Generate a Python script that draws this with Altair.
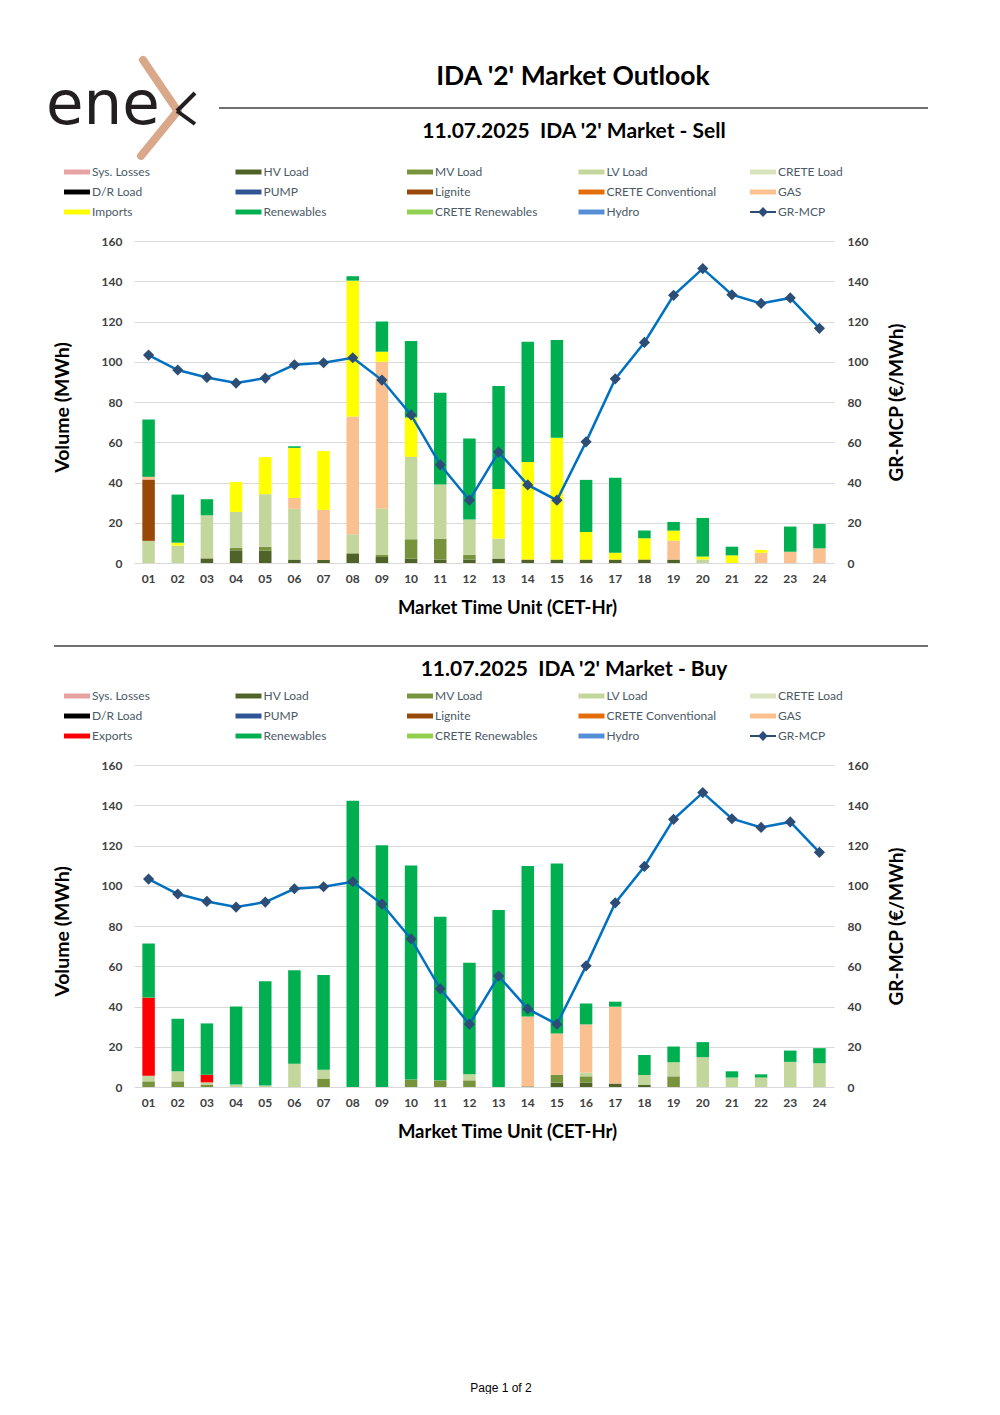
import altair as alt
import pandas as pd

hours = [f"{i:02d}" for i in range(1, 25)]

legend_sell = ["Sys. Losses", "HV Load", "MV Load", "LV Load", "CRETE Load",
               "D/R Load", "PUMP", "Lignite", "CRETE Conventional", "GAS",
               "Imports", "Renewables", "CRETE Renewables", "Hydro", "GR-MCP"]
legend_buy = ["Sys. Losses", "HV Load", "MV Load", "LV Load", "CRETE Load",
              "D/R Load", "PUMP", "Lignite", "CRETE Conventional", "GAS",
              "Exports", "Renewables", "CRETE Renewables", "Hydro", "GR-MCP"]
colors_sell = ["#E6A3A1", "#4F6228", "#77933C", "#C3D69B", "#D7E4BD",
               "#000000", "#2F5597", "#984807", "#E46C0A", "#FAC090",
               "#FFFF00", "#00B050", "#92D050", "#558ED5", "#2C4D75"]
colors_buy = ["#E6A3A1", "#4F6228", "#77933C", "#C3D69B", "#D7E4BD",
              "#000000", "#2F5597", "#984807", "#E46C0A", "#FAC090",
              "#FF0000", "#00B050", "#92D050", "#558ED5", "#2C4D75"]

# ---- Sell volumes (MWh) ----
sell_hv = [0, 0, 2.3, 6.3, 6.1, 1.7, 1.5, 4.8, 3, 2.2, 1.7, 1.7, 2.2, 1.7, 1.7, 1.7, 1.7, 1.7, 1.7, 0, 0, 0, 0, 0]
sell_mv = [0, 0, 0, 1.2, 2, 0, 0, 0, 1, 9.6, 10.4, 2.4, 0, 0, 0, 0, 0, 0, 0, 0, 0, 0, 0, 0]
sell_lv = [11, 8.6, 21.4, 17.9, 26.1, 25.2, 0, 9.5, 23, 40.9, 26.9, 17.5, 9.9, 0, 0, 0, 0, 0, 0, 1.8, 0, 0, 0, 0]
sell_lignite = [30.5, 0, 0, 0, 0, 0, 0, 0, 0, 0, 0, 0, 0, 0, 0, 0, 0, 0, 0, 0, 0, 0, 0, 0]
sell_gas = [1.3, 0, 0, 0, 0, 5.4, 24.9, 58.5, 73, 0, 0, 0, 0, 0, 0, 0, 0, 0, 9.4, 0, 0, 5.1, 5.6, 7.3]
sell_imports = [0, 1.5, 0, 14.9, 18.4, 24.9, 29.2, 67.5, 5, 19.6, 0, 0, 24.7, 48.5, 60.5, 13.7, 3.4, 10.6, 5, 1.4, 3.8, 1.4, 0, 0]
sell_ren = [28.5, 23.9, 8, 0, 0, 0.8, 0, 2.2, 15, 38, 45.6, 40.3, 51.1, 59.8, 48.6, 25.9, 37.2, 3.8, 4.3, 19.2, 4.3, 0, 12.5, 12.1]

# ---- Buy volumes (MWh) ----
buy_hv = [0, 0, 0, 0, 0, 0, 0, 0, 0, 0, 0, 0, 0, 0.3, 2.2, 2.2, 1.7, 1, 0, 0, 0, 0, 0, 0]
buy_mv = [2.8, 2.8, 1, 0, 0, 0, 4.2, 0, 0, 3.7, 3.3, 3.3, 0, 0, 3.8, 3.1, 0, 0, 5.3, 0, 0, 0, 0, 0]
buy_lv = [2.8, 5, 1.3, 1.2, 0.7, 11.6, 4.4, 0, 0, 0, 0, 3, 0, 0, 0, 1.8, 0, 5, 7, 14.8, 4.7, 4.7, 12.5, 11.8]
buy_gas = [0, 0, 0, 0, 0, 0, 0, 0, 0, 0, 0, 0, 0, 34.7, 20.6, 24, 38.2, 0, 0, 0, 0, 0, 0, 0]
buy_exports = [38.8, 0, 3.8, 0, 0, 0, 0, 0, 0, 0, 0, 0, 0, 0, 0, 0, 0, 0, 0, 0, 0, 0, 0, 0]
buy_ren = [26.9, 26.1, 25.5, 38.8, 51.8, 46.4, 47, 142.2, 120.1, 106.4, 81.3, 55.5, 87.9, 74.8, 84.4, 10.4, 2.5, 9.9, 7.8, 7.5, 3.1, 1.6, 5.6, 7.5]

# ---- GR-MCP (EUR/MWh) ----
mcp = [103.3, 95.9, 92.2, 89.4, 91.9, 98.5, 99.5, 102, 90.9, 73.6, 48.8, 31.2,
       55.1, 38.8, 31.2, 60.2, 91.5, 109.6, 133, 146.3, 133.3, 129, 131.7, 116.6]

tick_values = [0, 20, 40, 60, 80, 100, 120, 140, 160]

FONT = "Lato"
LABEL_COLOR = "#404040"
RECT = "M-1,-0.19H1V0.19H-1Z"
MCP_SYM = "M-1,-0.08H-0.3L0,-0.38L0.3,-0.08H1V0.08H0.3L0,0.38L-0.3,0.08H-1Z"
shapes = [RECT] * 14 + [MCP_SYM]


def long_df(series, legend):
    rows = []
    for name, vals in series.items():
        for h, v in zip(hours, vals):
            if v > 0:
                rows.append({"hour": h, "series": name, "value": v,
                             "ord": legend.index(name)})
    return pd.DataFrame(rows)


def legend_cfg():
    return alt.Legend(title=None, orient="none", legendX=-70, legendY=-82,
                      columns=5, direction="horizontal", gridAlign="all",
                      columnPadding=33.5, rowPadding=1, symbolSize=676,
                      symbolStrokeWidth=0, symbolOpacity=1, symbolType=RECT,
                      labelFont=FONT, labelFontSize=12, labelColor="#4A5A66",
                      labelOffset=2, labelLimit=250)


def txt(s, x, y, size, weight="bold", font=FONT, color="#000000",
        align="center", baseline="middle"):
    return alt.Chart(pd.DataFrame({"t": [s]})).mark_text(
        font=font, fontSize=size, fontWeight=weight, color=color,
        align=align, baseline=baseline
    ).encode(x=alt.value(x), y=alt.value(y), text="t:N")


def seg(x1, y1, x2, y2, color, w, cap="butt"):
    return alt.Chart(pd.DataFrame({"a": [0]})).mark_rule(
        color=color, strokeWidth=w, strokeCap=cap
    ).encode(x=alt.value(x1), y=alt.value(y1), x2=alt.value(x2), y2=alt.value(y2))


x_enc = alt.X("hour:O", sort=hours,
              scale=alt.Scale(domain=hours, paddingInner=0, paddingOuter=0),
              axis=alt.Axis(title="Market Time Unit (CET-Hr)", labelAngle=0,
                            labelFont=FONT, labelFontWeight="bold",
                            labelFontSize=12, labelColor=LABEL_COLOR,
                            labelPadding=10, ticks=False, domain=False,
                            titleFont=FONT, titleFontSize=18.5,
                            titleFontWeight="bold", titleColor="#000000",
                            titleX=373, titleY=44, titleBaseline="middle"))


def panel(df, legend, colors, extra):
    color_scale = alt.Scale(domain=legend, range=colors)
    bars = alt.Chart(df).mark_bar(size=12.5).encode(
        x=x_enc,
        y=alt.Y("value:Q", stack="zero",
                scale=alt.Scale(domain=[0, 160], nice=False),
                axis=alt.Axis(title="Volume (MWh)", values=tick_values,
                              grid=True, gridColor="#D9D9D9", gridWidth=1,
                              domain=False, ticks=False, labelFont=FONT,
                              labelFontWeight="bold", labelFontSize=12,
                              labelColor=LABEL_COLOR, labelPadding=12,
                              titleFont=FONT, titleFontSize=19.5,
                              titleFontWeight="bold", titleColor="#000000",
                              titleAngle=270, titleX=-72, titleY=166,
                              titleBaseline="middle")),
        color=alt.Color("series:N", scale=color_scale, legend=legend_cfg()),
        order=alt.Order("ord:Q", sort="ascending"),
    )
    leg_layer = alt.Chart(pd.DataFrame({"series": legend})).mark_point(
        filled=True, opacity=0
    ).encode(
        color=alt.Color("series:N", scale=color_scale, legend=legend_cfg()),
        shape=alt.Shape("series:N", scale=alt.Scale(domain=legend, range=shapes),
                        legend=legend_cfg()),
    )
    vol = alt.layer(bars, leg_layer, *extra)

    pdf = pd.DataFrame({"hour": hours, "mcp": mcp})
    base = alt.Chart(pdf).encode(
        x=x_enc,
        y=alt.Y("mcp:Q", scale=alt.Scale(domain=[0, 160], nice=False),
                axis=alt.Axis(orient="right", title="GR-MCP (€/MWh)",
                              values=tick_values, grid=False, domain=False,
                              ticks=False, labelFont=FONT,
                              labelFontWeight="bold", labelFontSize=12,
                              labelColor=LABEL_COLOR, labelPadding=13,
                              titleFont=FONT, titleFontSize=19,
                              titleFontWeight="bold", titleColor="#000000",
                              titleAngle=270, titleX=62, titleY=161,
                              titleBaseline="middle")),
    )
    price = alt.layer(
        base.mark_line(color="#0070C0", strokeWidth=2.5),
        base.mark_point(shape="diamond", filled=True, size=125,
                        color="#2C4D75", opacity=1),
    )
    return alt.layer(vol, price).resolve_scale(y="independent").properties(
        width=700, height=322)


sell_df = long_df({"HV Load": sell_hv, "MV Load": sell_mv, "LV Load": sell_lv,
                   "Lignite": sell_lignite, "GAS": sell_gas,
                   "Imports": sell_imports, "Renewables": sell_ren}, legend_sell)
buy_df = long_df({"HV Load": buy_hv, "MV Load": buy_mv, "LV Load": buy_lv,
                  "GAS": buy_gas, "Exports": buy_exports,
                  "Renewables": buy_ren}, legend_buy)

sell_extra = [
    seg(-125, -232, -124, -232, "#FFFFFF", 1),
    txt("ene", -88, -117, 61, weight="normal", font="DejaVu Sans",
        color="#231F20", align="left", baseline="alphabetic"),
    seg(9, -181, 43.7, -130, "#D9A88A", 8, "round"),
    seg(43.7, -130, 7, -85, "#D9A88A", 8, "round"),
    seg(61, -148, 43, -130, "#231F20", 4),
    seg(43, -130, 61, -117, "#231F20", 4),
    txt("IDA '2' Market Outlook", 439, -164, 26.5),
    seg(85, -133, 794, -133, "#404040", 1.3),
    txt("11.07.2025\u00a0 IDA '2' Market - Sell", 440, -109, 21),
]
buy_extra = [
    seg(-80, -119, 794, -119, "#404040", 1.3),
    txt("11.07.2025\u00a0 IDA '2' Market - Buy", 440, -95, 21),
    txt("Page 1 of 2", 367, 623, 12, weight="normal",
        font="Liberation Sans", color="#000000"),
]

sell = panel(sell_df, legend_sell, colors_sell, sell_extra)
buy = panel(buy_df, legend_buy, colors_buy, buy_extra)

chart = alt.vconcat(sell, buy, spacing=202, bounds="flush").resolve_scale(
    color="independent", shape="independent"
).resolve_legend(color="independent", shape="independent").properties(
    padding=0
).configure_view(stroke=None)

chart.save("out.html", embed_options={"renderer": "svg", "actions": False})
